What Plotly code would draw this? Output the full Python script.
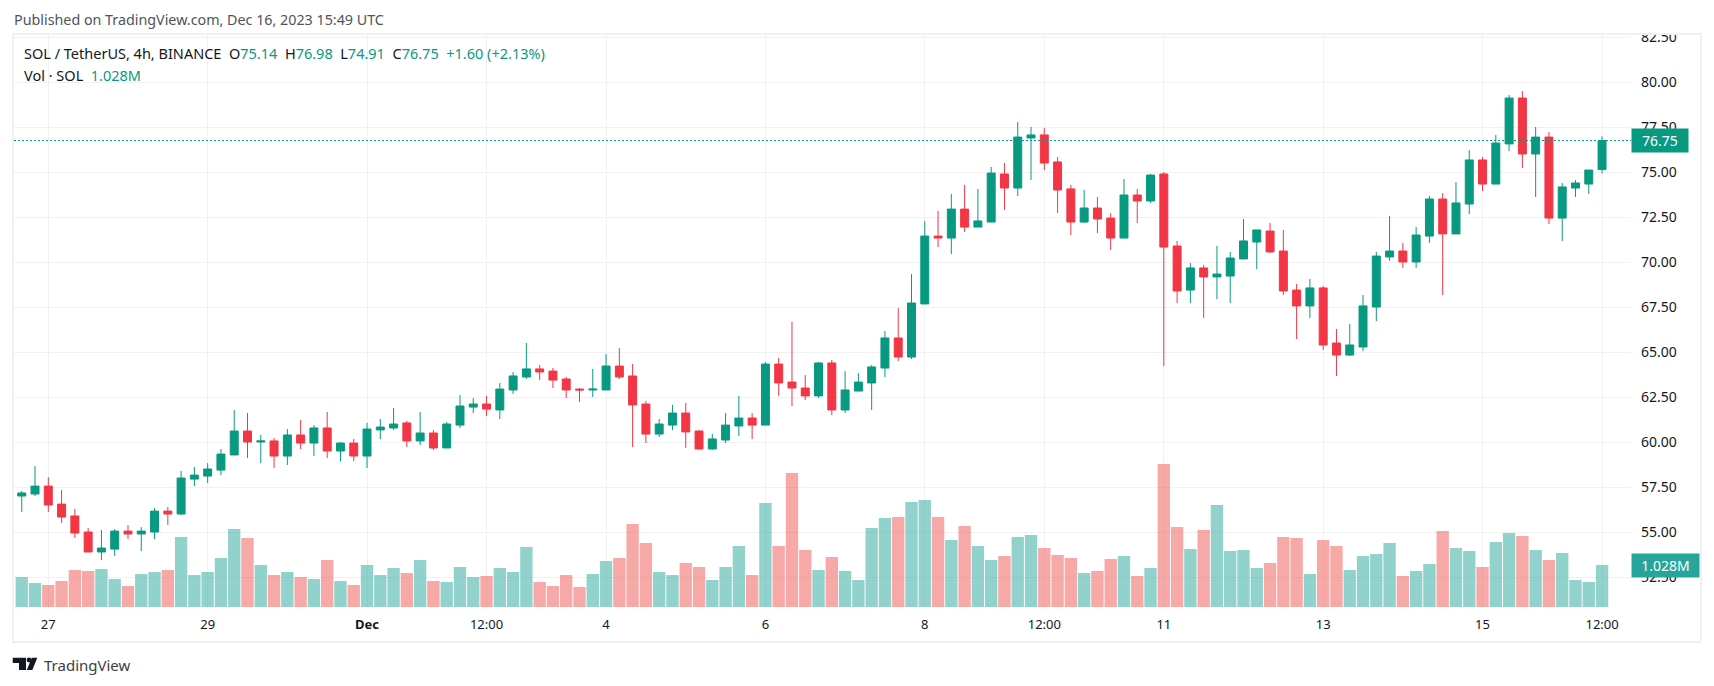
import pandas as pd
import plotly.graph_objects as go

# plotting constants
WIDTH = 1714
HEIGHT = 686

GREEN = "#089981"
RED = "#F23645"
VOLUME_COLOURS = {
    "up": "rgba(38,166,154,0.5)",
    "down": "rgba(239,83,80,0.5)",
}
GRID = "#F1F1F4"
FRAME = "#F0F0F5"
TEXT = "#131722"
FONT = "Noto Sans"

# 4h candles, one row of values per list
times = pd.date_range("2023-11-26 16:00", periods=120, freq="4h")

opens = [
    57.0, 57.11, 57.55, 56.55, 55.89, 55.0, 53.89, 54.05, 55.05, 54.89,
    55.0, 56.16, 56.0, 57.94, 58.11, 58.44, 59.28, 60.61, 60.0, 60.06,
    59.22, 60.39, 59.94, 60.78, 59.5, 59.94, 59.22, 60.67, 60.78, 61.06,
    60.06, 60.5, 59.67, 60.94, 61.94, 62.11, 61.78, 62.89, 63.61, 64.06,
    63.94, 63.5, 62.94, 62.89, 62.89, 64.22, 63.67, 62.11, 60.44, 60.94,
    61.61, 60.61, 59.61, 60.11, 60.89, 61.33, 60.94, 64.33, 63.33, 63.0,
    62.56, 64.39, 61.78, 62.83, 63.28, 64.11, 65.78, 64.72, 67.67, 71.44,
    71.33, 72.94, 71.94, 72.22, 74.89, 74.11, 76.89, 77.06, 75.56, 74.06,
    72.22, 73.0, 72.44, 71.33, 73.72, 73.39, 74.89, 70.89, 68.44, 69.67,
    69.17, 69.22, 70.17, 71.11, 71.72, 70.61, 68.44, 67.56, 68.56, 65.5,
    64.83, 65.28, 67.5, 70.28, 70.61, 70.0, 71.44, 73.5, 71.56, 73.22,
    75.67, 74.33, 76.56, 79.11, 76.0, 76.94, 72.44, 74.11, 74.33, 75.14,
]
highs = [
    57.28, 58.66, 58.05, 57.33, 56.28, 55.22, 55.11, 55.16, 55.39, 55.27,
    56.33, 56.39, 58.39, 58.61, 58.83, 59.61, 61.78, 61.61, 60.39, 60.22,
    60.72, 61.22, 60.94, 61.67, 60.0, 60.17, 61.06, 61.28, 61.89, 61.17,
    61.67, 60.67, 61.11, 62.61, 62.44, 62.56, 63.28, 63.89, 65.5, 64.28,
    64.11, 63.61, 63.0, 64.06, 64.89, 65.22, 64.33, 62.28, 61.28, 62.06,
    62.17, 60.67, 60.44, 61.61, 62.56, 61.61, 64.44, 64.67, 66.67, 63.72,
    64.44, 64.56, 63.94, 63.83, 64.28, 66.17, 67.44, 69.33, 72.28, 72.83,
    73.78, 74.28, 74.06, 75.28, 75.5, 77.78, 77.5, 77.44, 75.83, 74.28,
    74.0, 73.61, 72.72, 74.61, 74.06, 74.89, 75.0, 71.17, 69.94, 69.83,
    70.89, 70.56, 72.39, 71.78, 72.17, 71.78, 68.78, 69.06, 68.67, 66.28,
    66.56, 68.17, 70.56, 72.56, 71.06, 71.94, 73.67, 73.83, 74.44, 76.22,
    75.83, 77.06, 79.28, 79.5, 77.5, 77.22, 74.39, 74.55, 75.11, 76.98,
]
lows = [
    56.11, 57.0, 56.11, 55.5, 54.66, 53.89, 53.44, 53.66, 54.61, 53.94,
    54.61, 55.39, 55.94, 57.55, 57.72, 58.16, 59.28, 59.11, 58.83, 58.56,
    58.72, 59.61, 59.22, 59.11, 58.94, 58.94, 58.56, 60.17, 60.67, 59.72,
    59.83, 59.56, 59.67, 60.78, 61.61, 61.44, 61.28, 62.67, 63.5, 63.44,
    63.0, 62.44, 62.22, 62.5, 62.89, 63.5, 59.72, 59.94, 60.28, 60.67,
    59.67, 59.56, 59.56, 59.94, 60.33, 60.17, 60.94, 62.56, 62.0, 62.33,
    62.44, 61.5, 61.61, 62.83, 61.78, 63.61, 64.5, 64.61, 67.67, 70.83,
    70.44, 71.67, 71.94, 72.22, 72.89, 73.67, 74.56, 75.11, 72.72, 71.5,
    72.17, 71.61, 70.67, 71.33, 72.17, 73.28, 64.22, 67.72, 67.72, 66.89,
    67.94, 67.72, 70.17, 69.61, 70.5, 68.17, 65.72, 66.89, 65.11, 63.67,
    64.78, 65.06, 66.72, 70.06, 69.67, 69.67, 71.06, 68.17, 71.56, 72.67,
    73.94, 74.33, 76.17, 75.22, 73.61, 72.11, 71.17, 73.61, 73.78, 74.91,
]
closes = [
    57.17, 57.55, 56.5, 55.83, 54.94, 53.89, 54.11, 55.05, 54.89, 55.05,
    56.16, 56.0, 58.0, 58.16, 58.5, 59.33, 60.61, 60.0, 60.06, 59.22,
    60.39, 59.94, 60.78, 59.5, 59.94, 59.22, 60.72, 60.83, 61.0, 60.06,
    60.5, 59.67, 61.0, 62.0, 62.11, 61.83, 62.94, 63.67, 64.06, 63.89,
    63.44, 62.89, 62.89, 62.94, 64.22, 63.61, 62.06, 60.44, 61.0, 61.61,
    60.56, 59.61, 60.17, 60.94, 61.33, 60.94, 64.33, 63.28, 63.0, 62.56,
    64.39, 61.78, 62.89, 63.33, 64.17, 65.78, 64.72, 67.72, 71.44, 71.33,
    72.94, 71.94, 72.28, 74.94, 74.11, 76.94, 77.06, 75.5, 74.0, 72.22,
    73.0, 72.39, 71.33, 73.72, 73.39, 74.83, 70.83, 68.39, 69.67, 69.17,
    69.33, 70.22, 71.17, 71.78, 70.56, 68.39, 67.56, 68.56, 65.39, 64.83,
    65.39, 67.56, 70.33, 70.61, 70.0, 71.5, 73.5, 71.56, 73.28, 75.67,
    74.33, 76.61, 79.11, 76.0, 76.94, 72.44, 74.17, 74.39, 75.11, 76.75,
]
volumes = [  # millions
    0.734, 0.588, 0.539, 0.636, 0.906, 0.881, 0.930, 0.685, 0.514, 0.808,
    0.857, 0.906, 1.714, 0.783, 0.857, 1.2, 1.909, 1.689, 1.028, 0.783,
    0.857, 0.734, 0.685, 1.15, 0.636, 0.539, 1.028, 0.783, 0.955, 0.832,
    1.15, 0.636, 0.612, 0.979, 0.734, 0.759, 0.955, 0.857, 1.469, 0.612,
    0.514, 0.783, 0.49, 0.808, 1.126, 1.2, 2.032, 1.567, 0.857, 0.783,
    1.077, 0.979, 0.661, 0.979, 1.493, 0.783, 2.546, 1.493, 3.28, 1.395,
    0.906, 1.224, 0.881, 0.661, 1.934, 2.179, 2.203, 2.57, 2.619, 2.203,
    1.64, 1.983, 1.493, 1.15, 1.248, 1.714, 1.763, 1.444, 1.273, 1.2,
    0.832, 0.881, 1.175, 1.248, 0.759, 0.955, 3.501, 1.958, 1.42, 1.885,
    2.497, 1.371, 1.395, 0.955, 1.077, 1.714, 1.689, 0.808, 1.64, 1.493,
    0.906, 1.248, 1.297, 1.567, 0.759, 0.881, 1.053, 1.86, 1.444, 1.371,
    0.979, 1.591, 1.812, 1.738, 1.395, 1.15, 1.322, 0.661, 0.612, 1.028,
]

tick_times = [
    "2023-11-27", "2023-11-29", "2023-12-01", "2023-12-02 12:00",
    "2023-12-04", "2023-12-06", "2023-12-08", "2023-12-09 12:00",
    "2023-12-11", "2023-12-13", "2023-12-15", "2023-12-16 12:00",
]
tick_labels = [
    "27", "29", "<b>Dec</b>", "12:00", "4", "6", "8", "12:00", "11", "13", "15", "12:00",
]

last_price = 76.75
last_volume = 1.028


def px_x(x):
    return x / WIDTH


def px_y(y):
    return 1 - y / HEIGHT


def add_text(fig, x, y, text, size, colour):
    fig.add_annotation(
        x=px_x(x),
        y=px_y(y),
        xref="paper",
        yref="paper",
        xanchor="left",
        yanchor="middle",
        showarrow=False,
        text=text,
        font=dict(family=FONT, size=size, color=colour),
    )


def plot_chart(output_file):
    # create empty plotly figure object
    fig = go.Figure()

    # volume bars first, they sit under the candles
    bar_colours = []
    for o, c in zip(opens, closes):
        if c >= o:
            bar_colours.append(VOLUME_COLOURS["up"])
        else:
            bar_colours.append(VOLUME_COLOURS["down"])

    fig.add_trace(
        go.Bar(
            x=times,
            y=volumes,
            marker=dict(color=bar_colours, line=dict(width=0)),
            yaxis="y",
            name="Vol",
        )
    )

    # add the candles
    fig.add_trace(
        go.Candlestick(
            x=times,
            open=opens,
            high=highs,
            low=lows,
            close=closes,
            increasing=dict(line=dict(color=GREEN, width=1), fillcolor=GREEN),
            decreasing=dict(line=dict(color=RED, width=1), fillcolor=RED),
            whiskerwidth=0,
            yaxis="y2",
            name="SOL",
        )
    )

    fig.update_layout(
        width=WIDTH,
        height=HEIGHT,
        margin=dict(l=0, r=0, t=0, b=0, autoexpand=False),
        autosize=False,
        showlegend=False,
        plot_bgcolor="white",
        paper_bgcolor="white",
        bargap=0.07,
        boxgap=0.4,
        boxgroupgap=0,
        xaxis=dict(
            domain=[px_x(14), px_x(1631)],
            range=["2023-11-26 13:40", "2023-12-16 20:43"],
            rangeslider=dict(visible=False),
            tickmode="array",
            tickvals=tick_times,
            ticktext=tick_labels,
            ticks="",
            ticklabelstandoff=7,
            tickfont=dict(family=FONT, size=13, color=TEXT),
            showgrid=True,
            gridcolor=GRID,
            gridwidth=1,
            zeroline=False,
            showline=False,
        ),
        yaxis=dict(
            domain=[px_y(608), px_y(35)],
            range=[-0.024, 14.0],
            visible=False,
            showgrid=False,
        ),
        yaxis2=dict(
            domain=[px_y(608), px_y(35)],
            range=[50.778, 82.611],
            overlaying="y",
            side="right",
            anchor="x",
            tick0=0,
            dtick=2.5,
            tickformat=".2f",
            ticks="",
            ticklabelstandoff=9,
            tickfont=dict(family=FONT, size=14, color=TEXT),
            showgrid=True,
            gridcolor=GRID,
            gridwidth=1,
            zeroline=False,
            showline=False,
        ),
    )

    # dotted last price line
    fig.add_shape(
        type="line",
        xref="paper",
        yref="y2",
        x0=px_x(14),
        x1=px_x(1631),
        y0=last_price,
        y1=last_price,
        line=dict(color=GREEN, width=1, dash="2px,2px"),
    )

    # white strip clips the top tick label, then the frame goes round the chart
    fig.add_shape(
        type="rect",
        xref="paper",
        yref="paper",
        x0=px_x(1632),
        x1=px_x(1700),
        y0=px_y(33),
        y1=px_y(24),
        line=dict(width=0),
        fillcolor="white",
        layer="above",
    )
    fig.add_shape(
        type="rect",
        xref="paper",
        yref="paper",
        x0=px_x(13),
        x1=px_x(1701),
        y0=px_y(642),
        y1=px_y(34),
        line=dict(color=FRAME, width=2),
        layer="above",
    )

    # price and volume tags on the axis
    fig.add_annotation(
        x=px_x(1631),
        y=last_price,
        xref="paper",
        yref="y2",
        xanchor="left",
        yanchor="middle",
        showarrow=False,
        text=f"{last_price:.2f}",
        width=54,
        height=21,
        bgcolor=GREEN,
        font=dict(family=FONT, size=14, color="white"),
    )
    fig.add_annotation(
        x=px_x(1631),
        y=last_volume,
        xref="paper",
        yref="y",
        xanchor="left",
        yanchor="middle",
        showarrow=False,
        text=f"{last_volume:.3f}M",
        width=65,
        height=21,
        bgcolor="#26A69A",
        font=dict(family=FONT, size=14, color="white"),
    )

    # header and legend text
    add_text(fig, 12, 20, "Published on TradingView.com, Dec 16, 2023 15:49 UTC", 14.3, "#50535E")

    value = '<span style="color:' + GREEN + '">%s</span>'
    legend = (
        "SOL / TetherUS, 4h, BINANCE\u00a0\u00a0"
        + "O" + value % "75.14" + "\u00a0\u00a0"
        + "H" + value % "76.98" + "\u00a0\u00a0"
        + "L" + value % "74.91" + "\u00a0\u00a0"
        + "C" + value % "76.75" + "\u00a0\u00a0"
        + value % "+1.60 (+2.13%)"
    )
    add_text(fig, 22, 53, legend, 14.5, TEXT)
    add_text(fig, 22, 75, "Vol \u00b7 SOL\u00a0\u00a0" + value % "1.028M", 14.5, TEXT)

    # logo in the footer
    fig.add_shape(
        type="path",
        xref="paper",
        yref="paper",
        path=(
            f"M {px_x(12.7)} {px_y(657.7)} L {px_x(26)} {px_y(657.7)} L {px_x(26)} {px_y(670)} "
            f"L {px_x(19)} {px_y(670)} L {px_x(19)} {px_y(663)} L {px_x(12.7)} {px_y(663)} Z "
            f"M {px_x(37.3)} {px_y(657.7)} L {px_x(32.3)} {px_y(670)} L {px_x(26.8)} {px_y(670)} "
            f"L {px_x(31.8)} {px_y(657.7)} Z"
        ),
        fillcolor=TEXT,
        line=dict(width=0),
    )
    fig.add_shape(
        type="circle",
        xref="paper",
        yref="paper",
        x0=px_x(26.6),
        x1=px_x(31.4),
        y0=px_y(662.4),
        y1=px_y(657.6),
        fillcolor=TEXT,
        line=dict(width=0),
    )
    add_text(fig, 42, 665, "TradingView", 15, "#3C4043")

    # write the plot
    fig.write_html(
        output_file,
        config=dict(displayModeBar=False),
        post_script="document.body.style.margin='0';",
    )


plot_chart("out.html")
